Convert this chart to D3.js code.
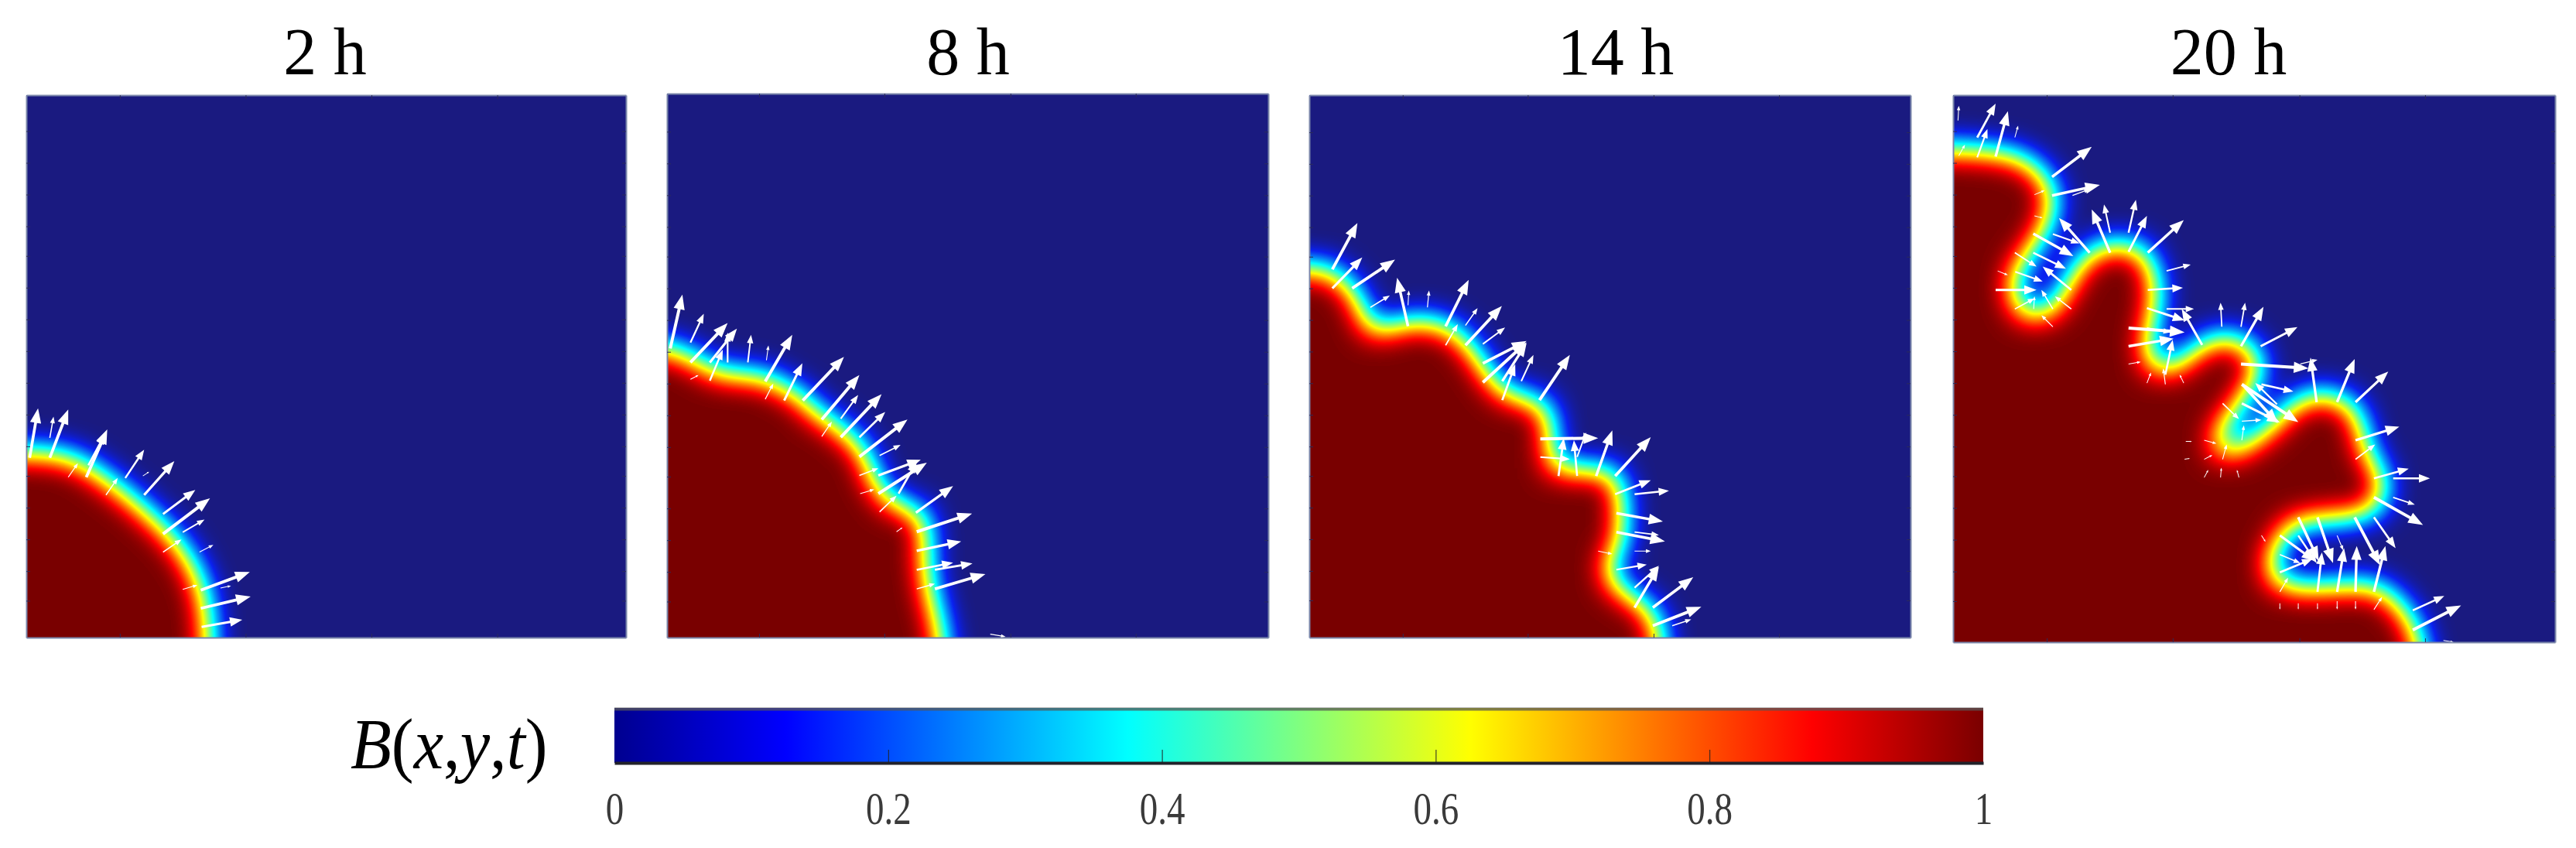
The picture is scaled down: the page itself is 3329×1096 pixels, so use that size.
<!DOCTYPE html>
<html>
<head>
<meta charset="utf-8" />
<script src="https://cdn.jsdelivr.net/npm/d3@7"></script>
<style>
  html, body { margin: 0; background: #fff; overflow: hidden; }
  text { font-family: "Liberation Serif", serif; }
</style>
</head>
<body>
<div id="graph-container"></div>
<script>
// panel titles
const titles = ["2 h", "8 h", "14 h", "20 h"];

// digitised axis extents of each panel
const xDomains = [[62, 1492], [22, 1510], [41, 1527], [46, 1518]];
const yDomains = [[1507, 225], [1505, 220], [1508, 222], [1517, 225]];
const xTickValues = [
  [285, 585, 885, 1185],
  [250, 560, 872, 1182],
  [272, 581, 892, 1202],
  [275, 583, 893, 1200],
];
const yTickValues = [310, 385, 460, 535, 605, 680, 755, 830, 905, 980, 1055, 1125, 1200, 1275, 1350, 1420];

// bacterial front per panel, the B field is this region diffused
const front2h = [[0, 1090], [62, 1092], [120, 1095], [165, 1105], [210, 1130], [250, 1160], [290, 1190], [330, 1225], [375, 1265], [410, 1305], [440, 1350], [460, 1400], [470, 1450], [475, 1530]];
const front8h = [[0, 840], [22, 845], [45, 850], [80, 870], [105, 880], [125, 900], [175, 905], [225, 908], [270, 915], [300, 935], [345, 955], [360, 985], [410, 1010], [450, 1040], [490, 1075], [505, 1125], [525, 1160], [555, 1200], [600, 1220], [635, 1225], [640, 1280], [640, 1345], [650, 1400], [672, 1480], [680, 1530]];
const front14h = [[20, 655], [41, 655], [90, 660], [110, 685], [135, 700], [155, 760], [180, 800], [205, 820], [235, 800], [270, 785], [320, 780], [370, 790], [410, 820], [440, 860], [470, 905], [510, 950], [570, 965], [605, 970], [615, 1020], [615, 1100], [605, 1135], [680, 1130], [780, 1135], [790, 1180], [790, 1280], [760, 1310], [755, 1370], [790, 1410], [850, 1445], [875, 1470], [885, 1530]];
const front20h = [[20, 365], [46, 365], [100, 368], [170, 375], [225, 395], [255, 420], [278, 465], [270, 510], [250, 555], [215, 600], [190, 640], [182, 700], [228, 760], [300, 735], [335, 680], [370, 625], [400, 600], [450, 590], [500, 600], [525, 650], [530, 720], [515, 780], [510, 840], [530, 880], [590, 880], [640, 840], [680, 815], [730, 810], [775, 840], [780, 880], [760, 915], [725, 965], [675, 1040], [700, 1085], [780, 1055], [850, 1000], [900, 955], [950, 945], [1010, 965], [1035, 1020], [1045, 1075], [1075, 1110], [1085, 1170], [1060, 1200], [960, 1215], [880, 1225], [835, 1270], [810, 1340], [830, 1385], [900, 1400], [1080, 1400], [1130, 1440], [1165, 1490], [1175, 1540]];

// velocity arrows [x0, y0, x1, y1]
const arrows2h = [[70, 1082, 90, 965], [118, 1035, 127, 985], [118, 1082, 162, 968], [162, 1128, 185, 1095], [205, 1128, 255, 1015], [210, 1100, 250, 1025], [252, 1170, 280, 1130], [298, 1130, 343, 1063], [343, 1170, 415, 1090], [388, 1215, 465, 1158], [388, 1262, 500, 1178], [435, 1258, 487, 1228], [388, 1305, 432, 1275], [475, 1305, 508, 1288], [435, 1393, 470, 1383], [478, 1395, 595, 1352], [478, 1438, 597, 1410], [480, 1482, 577, 1465], [340, 1125, 355, 1115], [525, 1390, 550, 1385]];
const arrows8h = [[30, 822, 60, 695], [80, 808, 113, 740], [80, 855, 172, 762], [128, 855, 195, 775], [128, 898, 160, 825], [172, 855, 172, 785], [222, 855, 230, 790], [268, 850, 273, 815], [265, 900, 332, 790], [265, 942, 285, 905], [312, 945, 357, 857], [358, 945, 460, 842], [405, 990, 498, 885], [405, 1030, 430, 995], [452, 988, 495, 932], [452, 1032, 553, 930], [498, 1032, 562, 972], [498, 1078, 617, 990], [548, 1075, 600, 1050], [498, 1122, 545, 1105], [545, 1122, 650, 1085], [500, 1165, 535, 1155], [545, 1165, 665, 1092], [595, 1165, 640, 1090], [548, 1208, 590, 1170], [638, 1210, 730, 1147], [640, 1255, 777, 1212], [640, 1300, 750, 1278], [640, 1345, 730, 1328], [685, 1345, 778, 1330], [640, 1390, 685, 1378], [685, 1390, 810, 1355], [822, 1497, 860, 1503], [80, 895, 100, 885], [590, 1255, 605, 1245]];
const arrows14h = [[98, 635, 160, 525], [98, 680, 172, 607], [147, 680, 253, 612], [192, 725, 240, 697], [285, 770, 258, 655], [285, 720, 287, 685], [333, 725, 337, 685], [378, 770, 435, 660], [378, 815, 408, 765], [427, 768, 457, 727], [427, 815, 517, 722], [470, 812, 525, 773], [470, 858, 578, 805], [470, 903, 578, 808], [518, 900, 578, 810], [518, 945, 550, 860], [565, 900, 595, 838], [610, 945, 685, 838], [612, 1037, 755, 1035], [612, 1080, 685, 1085], [657, 1125, 670, 1035], [703, 1125, 695, 1040], [703, 1080, 725, 1022], [750, 1125, 790, 1017], [797, 1125, 885, 1033], [797, 1168, 885, 1135], [845, 1168, 930, 1160], [800, 1213, 915, 1233], [800, 1258, 920, 1280], [845, 1258, 905, 1265], [755, 1303, 790, 1310], [845, 1303, 885, 1303], [800, 1347, 875, 1335], [845, 1390, 905, 1338], [845, 1437, 905, 1340], [890, 1437, 990, 1365], [890, 1480, 1010, 1435], [938, 1480, 985, 1465]];
const arrows20h = [[58, 285, 60, 250], [105, 325, 150, 245], [105, 372, 130, 305], [150, 370, 180, 263], [197, 325, 205, 297], [60, 368, 75, 342], [288, 418, 385, 347], [288, 462, 405, 437], [338, 462, 380, 447], [380, 597, 305, 515], [430, 597, 385, 495], [430, 550, 415, 483], [475, 595, 520, 510], [475, 550, 493, 472], [522, 597, 610, 520], [568, 640, 627, 625], [522, 685, 608, 680], [242, 552, 340, 605], [290, 553, 355, 575], [242, 597, 322, 635], [197, 597, 250, 630], [335, 685, 265, 630], [198, 642, 265, 665], [150, 685, 250, 685], [197, 730, 245, 705], [243, 730, 245, 700], [290, 730, 262, 685], [335, 730, 295, 700], [290, 772, 262, 745], [568, 730, 635, 730], [520, 728, 612, 757], [655, 815, 605, 730], [475, 775, 612, 785], [520, 775, 578, 785], [475, 818, 585, 800], [565, 885, 583, 803], [703, 772, 700, 715], [750, 772, 760, 715], [750, 818, 805, 725], [798, 818, 888, 773], [750, 860, 915, 870], [895, 860, 937, 850], [935, 950, 920, 845], [985, 950, 1028, 848], [1030, 950, 1110, 878], [755, 910, 840, 1000], [705, 953, 745, 990], [752, 908, 890, 997], [800, 908, 878, 925], [752, 953, 845, 998], [838, 955, 785, 905], [752, 995, 800, 992], [752, 1040, 757, 1005], [660, 1040, 690, 1048], [705, 1085, 715, 1050], [1030, 1040, 1137, 1008], [1030, 1085, 1078, 1050], [1075, 1130, 1160, 1107], [1122, 1130, 1212, 1130], [1122, 1175, 1175, 1192], [1075, 1175, 1195, 1240], [1075, 1222, 1128, 1295], [1028, 1222, 1090, 1335], [890, 1222, 940, 1325], [937, 1222, 975, 1330], [985, 1265, 1000, 1300], [845, 1265, 930, 1325], [890, 1265, 935, 1330], [845, 1352, 925, 1320], [845, 1310, 895, 1330], [937, 1398, 948, 1305], [985, 1398, 1002, 1295], [1030, 1398, 1033, 1290], [1075, 1398, 1103, 1290], [845, 1398, 865, 1365], [800, 1265, 810, 1280], [1170, 1442, 1247, 1408], [1170, 1488, 1288, 1430], [1245, 1513, 1270, 1517], [845, 1425, 845, 1440], [890, 1425, 890, 1440], [937, 1425, 937, 1440], [985, 1420, 985, 1440], [1030, 1420, 1030, 1440], [1075, 1440, 1095, 1410], [520, 905, 530, 880], [565, 908, 560, 870], [610, 905, 600, 885], [660, 1128, 670, 1110], [700, 1128, 702, 1105], [745, 1128, 740, 1110], [615, 1043, 630, 1043], [612, 1085, 625, 1083], [660, 1085, 680, 1075], [475, 860, 505, 855], [245, 460, 270, 450], [245, 510, 265, 515], [155, 640, 180, 650]];

// colour bar
const jetStops = [0, 0.125, 0.375, 0.625, 0.875, 1];
const jetColors = ["#00008f", "#0000ff", "#00ffff", "#ffff00", "#ff0000", "#7a0000"];
const fieldColors = ["#1a1a80", "#0a20f0", "#00ffff", "#ffff00", "#ff0000", "#7a0000"];
const colorbarTicks = [0, 0.2, 0.4, 0.6, 0.8, 1];

const fronts = [front2h, front8h, front14h, front20h];
const arrows = [arrows2h, arrows8h, arrows14h, arrows20h];

// layout
const width = 3329;
const height = 1096;
const diffusion = 20;
const boxes = [
  { x0: 34, x1: 809, y0: 123, y1: 824, titleX: 420, grow: 14 },
  { x0: 862, x1: 1639, y0: 121, y1: 824, titleX: 1251, grow: 14 },
  { x0: 1692, x1: 2469, y0: 123, y1: 824, titleX: 2088, grow: 14 },
  { x0: 2524, x1: 3302, y0: 123, y1: 830, titleX: 2880, grow: 8 },
];

const svg = d3
  .select("#graph-container")
  .append("svg")
  .attr("width", width)
  .attr("height", height)
  .style("display", "block");

const defs = svg.append("defs");

defs
  .append("filter")
  .attr("id", "softer")
  .append("feGaussianBlur")
  .attr("stdDeviation", 0.7);

// blurred mask of the colony mapped through the colour map
const fieldColor = d3.scaleLinear().domain(jetStops).range(fieldColors);
const table = d3.range(0, 1.001, 1 / 128).map((b) => d3.rgb(fieldColor(b)));
const diffuse = defs
  .append("filter")
  .attr("id", "diffuse")
  .attr("filterUnits", "userSpaceOnUse")
  .attr("x", 0)
  .attr("y", 0)
  .attr("width", width)
  .attr("height", height)
  .attr("color-interpolation-filters", "sRGB");
diffuse.append("feGaussianBlur").attr("stdDeviation", diffusion);
const transfer = diffuse.append("feComponentTransfer");
[
  ["feFuncR", "r"],
  ["feFuncG", "g"],
  ["feFuncB", "b"],
].forEach(([name, c]) => {
  transfer
    .append(name)
    .attr("type", "table")
    .attr("tableValues", table.map((t) => (t[c] / 255).toFixed(4)).join(" "));
});

// quiver style arrow: head grows with the length, as in MATLAB
function arrowPath(x0, y0, x1, y1) {
  const len = Math.hypot(x1 - x0, y1 - y0);
  const ux = (x1 - x0) / len;
  const uy = (y1 - y0) / len;
  const headLen = Math.min(len * 0.3, 19);
  const headW = headLen * 0.38;
  const shaft = Math.max(0.5, Math.min(len * 0.028, 2));
  const bx = x1 - ux * headLen;
  const by = y1 - uy * headLen;
  const nx = -uy;
  const ny = ux;
  const pts = [
    [x0 + nx * shaft, y0 + ny * shaft],
    [bx + nx * shaft, by + ny * shaft],
    [bx + nx * headW, by + ny * headW],
    [x1, y1],
    [bx - nx * headW, by - ny * headW],
    [bx - nx * shaft, by - ny * shaft],
    [x0 - nx * shaft, y0 - ny * shaft],
  ];
  return "M" + pts.map((p) => p.join(",")).join("L") + "Z";
}

boxes.forEach((box, i) => {
  const x = d3.scaleLinear().domain(xDomains[i]).range([box.x0, box.x1]);
  const y = d3.scaleLinear().domain(yDomains[i]).range([box.y1, box.y0]);

  defs
    .append("clipPath")
    .attr("id", `clip-${i}`)
    .append("rect")
    .attr("x", box.x0)
    .attr("y", box.y0)
    .attr("width", box.x1 - box.x0)
    .attr("height", box.y1 - box.y0);

  svg
    .append("text")
    .attr("x", box.titleX)
    .attr("y", 96)
    .attr("text-anchor", "middle")
    .attr("font-size", 86)
    .attr("fill", "#000")
    .text(titles[i]);

  const panel = svg.append("g").attr("clip-path", `url(#clip-${i})`);

  const line = d3
    .line()
    .x((d) => x(d[0]))
    .y((d) => y(d[1]))
    .curve(i === 3 ? d3.curveCatmullRom.alpha(0.5) : d3.curveLinear);

  // the colony runs on past the left and bottom edges so blur does not eat it
  const first = fronts[i][0];
  const last = fronts[i][fronts[i].length - 1];
  const body = [
    [first[0] - 300, first[1]],
    ...fronts[i],
    [last[0], last[1] + 300],
    [first[0] - 300, last[1] + 300],
    [first[0] - 300, first[1]],
  ];

  const field = panel.append("g").attr("filter", "url(#diffuse)");

  field
    .append("rect")
    .attr("x", box.x0 - 200)
    .attr("y", box.y0 - 100)
    .attr("width", box.x1 - box.x0 + 400)
    .attr("height", box.y1 - box.y0 + 300)
    .attr("fill", "#000");

  field
    .append("path")
    .attr("d", line(body) + "Z")
    .attr("fill", "#fff")
    .attr("stroke", "#fff")
    .attr("stroke-width", box.grow * 2)
    .attr("stroke-linejoin", "round");

  panel
    .append("g")
    .attr("filter", "url(#softer)")
    .selectAll("path")
    .data(arrows[i])
    .enter()
    .append("path")
    .attr("d", (d) => arrowPath(x(d[0]), y(d[1]), x(d[2]), y(d[3])))
    .attr("fill", "#fff");

  // frame and tiny inward ticks
  const axisStyle = (g) => {
    g.select(".domain").attr("stroke", "#7a86aa").attr("stroke-width", 2);
    g.selectAll(".tick line").attr("stroke", "#2c2c5a").attr("stroke-width", 1);
    g.selectAll(".tick text").remove();
  };
  const tickX = xTickValues[i];

  svg
    .append("g")
    .attr("transform", `translate(0,${box.y1})`)
    .call(d3.axisBottom(x).tickValues(tickX).tickSize(-5).tickSizeOuter(0))
    .call(axisStyle);
  svg
    .append("g")
    .attr("transform", `translate(0,${box.y0})`)
    .call(d3.axisTop(x).tickValues(tickX).tickSize(-5).tickSizeOuter(0))
    .call(axisStyle);
  svg
    .append("g")
    .attr("transform", `translate(${box.x0},0)`)
    .call(d3.axisLeft(y).tickValues(yTickValues).tickSize(-5).tickSizeOuter(0))
    .call(axisStyle);
  svg
    .append("g")
    .attr("transform", `translate(${box.x1},0)`)
    .call(d3.axisRight(y).tickValues(yTickValues).tickSize(-5).tickSizeOuter(0))
    .call(axisStyle);
});

// colour bar
const barX = d3.scaleLinear().domain([0, 1]).range([794, 2563]);
const barTop = 915;
const barBottom = 986;

const gradient = defs
  .append("linearGradient")
  .attr("id", "jet")
  .attr("x1", "0%")
  .attr("x2", "100%")
  .attr("y1", "0%")
  .attr("y2", "0%");

gradient
  .selectAll("stop")
  .data(jetStops)
  .enter()
  .append("stop")
  .attr("offset", (d) => d * 100 + "%")
  .attr("stop-color", (d, i) => jetColors[i]);

svg
  .append("rect")
  .attr("x", barX(0))
  .attr("y", barTop)
  .attr("width", barX(1) - barX(0))
  .attr("height", barBottom - barTop)
  .attr("fill", "url(#jet)");

svg
  .append("line")
  .attr("x1", barX(0))
  .attr("x2", barX(1))
  .attr("y1", barTop + 1.5)
  .attr("y2", barTop + 1.5)
  .attr("stroke", "#555")
  .attr("stroke-opacity", 0.75)
  .attr("stroke-width", 4);

const barAxis = svg
  .append("g")
  .attr("transform", `translate(0,${barBottom})`)
  .call(
    d3
      .axisBottom(barX)
      .tickValues(colorbarTicks)
      .tickSize(-17)
      .tickSizeOuter(0)
      .tickFormat((d) => String(d))
  );

barAxis.select(".domain").attr("stroke", "#22222a").attr("stroke-width", 4);
barAxis.selectAll(".tick line").attr("stroke", "#222").attr("stroke-width", 1);
barAxis
  .selectAll(".tick")
  .filter((d) => d === 0 || d === 1)
  .select("line")
  .remove();

// tick labels are squeezed in the source figure
barAxis
  .selectAll(".tick text")
  .attr("y", 0)
  .attr("dy", 0)
  .attr("font-size", 47)
  .attr("fill", "#3a3a3a")
  .attr("transform", "translate(0,79) scale(1,1.25)");

const label = svg
  .append("text")
  .attr("transform", "translate(453,993) scale(1.03,1.12)")
  .attr("font-size", 84)
  .attr("fill", "#000");

[
  ["B", true],
  ["(", false],
  ["x", true],
  [",", false],
  ["y", true],
  [",", false],
  ["t", true],
  [")", false],
].forEach(([s, it]) => {
  label.append("tspan").attr("font-style", it ? "italic" : "normal").text(s);
});
</script>
</body>
</html>
